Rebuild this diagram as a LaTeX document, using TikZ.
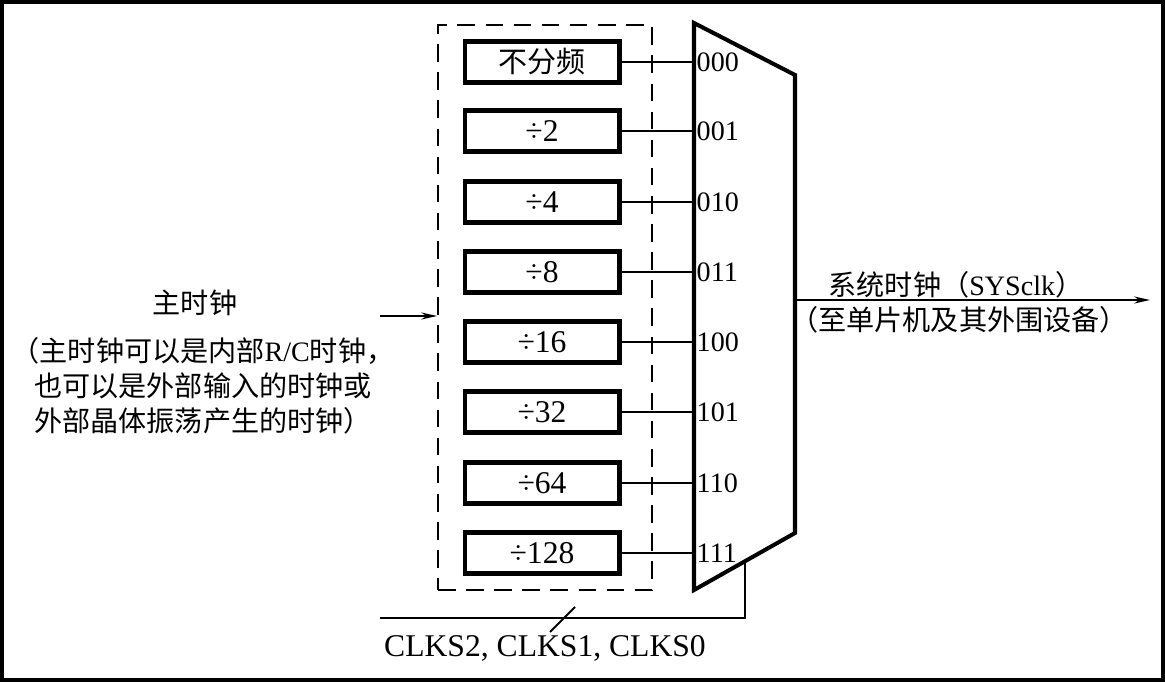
\documentclass[tikz,border=0pt]{standalone}
\usepackage{fontspec}
\setmainfont{Liberation Serif}
\newfontfamily\cjk{Noto Sans CJK SC}
\usetikzlibrary{arrows.meta}

\tikzset{
  divbox/.style={draw, line width=2.3pt, minimum width=3.1cm, minimum height=0.82cm, inner sep=0pt,
    font=\fontsize{18}{20}\selectfont},
  selcode/.style={anchor=west, inner sep=1pt},
  note/.style={align=center, inner sep=0pt}
}

\begin{document}
\begin{tikzpicture}[x=0.02cm, y=-0.02cm, line width=1.1pt, font=\fontsize{16}{20}\selectfont]
\useasboundingbox (0,0) rectangle (1165,682);
% outer frame
\draw[line width=1.8pt] (2,2) rectangle (1163,680);
% dashed frame round the dividers
\node[draw, dash pattern=on 10pt off 6pt, minimum width=4.28cm, minimum height=11.3cm, inner sep=0pt] (grp) at (545,307.5) {};
% multiplexer
\coordinate (A) at (694,23) ;
\coordinate (B) at (795,75) ;
\coordinate (C) at (795,533) ;
\coordinate (D) at (694,590) ;
\draw[line width=2.3pt, line join=miter] (A) -- (B) -- (C) -- (D) -- cycle ;
% dividers and mux inputs
\foreach \i/\y/\t/\code in {0/62/{{\fontsize{16.5}{20}\cjk 不分频}}/000, 1/131/÷2/001, 2/202/÷4/010, 3/272/÷8/011,
                          4/342/÷16/100, 5/412/÷32/101, 6/483/÷64/110, 7/553/÷128/111} {
  \node[divbox] (b\i) at (542,\y) {\t};
  \coordinate (in\i) at (694,\y);
  \draw (b\i.east) -- (in\i);
  \node[selcode] at (in\i) {\code};
}
% select lines
\coordinate (S) at (745,561) ;
\coordinate (Sl) at (380,618) ;
\draw (S) |- (Sl) ;
\draw (550,632) -- (575,607) ;
\node[font=\fontsize{18}{20}\selectfont] (clks) at (545,648) {CLKS2, CLKS1, CLKS0};
% main clock in
\coordinate (mc) at (380,316) ;
\draw[-{Stealth[length=9pt,width=4pt]}] (mc) -- (grp.west |- mc) ;
\node[note] (mclk) at (195,303) {\cjk 主时钟};
\node[note] (mnote) at (203,386) {{\cjk （主时钟可以是内部}R/C{\cjk 时钟，}\\
  {\cjk 也可以是外部输入的时钟或}\\ {\cjk 外部晶体振荡产生的时钟）}};
% system clock out
\coordinate (so) at (795,300) ;
\coordinate (se) at (1150,300) ;
\draw[-{Stealth[length=9pt,width=4pt]}] (so) -- (se) ;
\node[note] (sclk) at (956,285) {{\cjk 系统时钟（}SYSclk{\cjk ）}};
\node[note] (sdst) at (959,320) {\cjk （至单片机及其外围设备）};
\end{tikzpicture}
\end{document}
